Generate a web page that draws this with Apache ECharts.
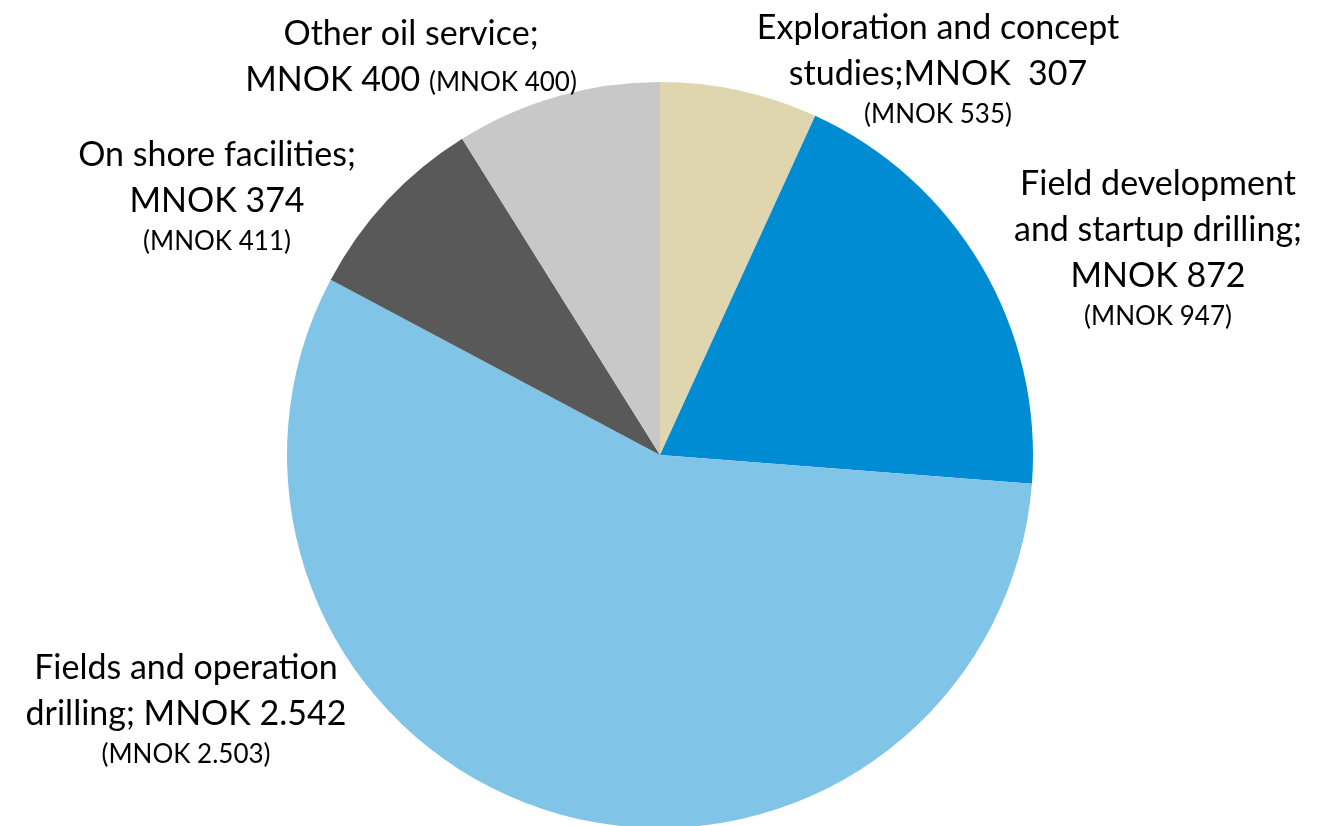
<!DOCTYPE html>
<html>
<head>
<meta charset="utf-8">
<script src="https://cdn.jsdelivr.net/npm/echarts@6/dist/echarts.min.js"></script>
<style>
html,body{margin:0;padding:0;background:#fff;}
#chart{width:1326px;height:826px;}
</style>
</head>
<body>
<div id="chart"></div>
<script>
// ---- data ----
const categories = [
  "Exploration and concept\nstudies",
  "Field development\nand startup drilling",
  "Fields and operation\ndrilling",
  "On shore facilities",
  "Other oil service"
];
const values = [307, 872, 2542, 374, 400];          // current year, MNOK
const previousValues = [535, 947, 2503, 411, 400];  // previous year, MNOK (in parentheses)

// ---- styling / layout (not data) ----
const colors = ["#DFD5AF", "#008CD3", "#80C4E7", "#595959", "#C8C8C8"];
const valueSep = ["", "\n", " ", "\n", "\n"];      // between "name;" and "MNOK value"
const prevSep = ["\n", "\n", "\n", "\n", " "];     // between value and "(MNOK prev)"
const labelPos = [[938, 69], [1158, 248], [186, 709], [217, 196], [411, 57]];

function fmt(v) {
  return String(v).replace(/\B(?=(\d{3})+(?!\d))/g, ".");
}
function big(s) {
  return s.split("\n").map(l => l ? "{b|" + l + "}" : "").join("\n");
}

const chart = echarts.init(document.getElementById("chart"), null, {renderer: "canvas"});
chart.setOption({
  backgroundColor: "#ffffff",
  animation: false,
  series: [{
    type: "pie",
    center: [660, 455],
    radius: 373,
    startAngle: 90,
    clockwise: true,
    avoidLabelOverlap: false,
    itemStyle: {borderWidth: 0},
    emphasis: {disabled: true},
    labelLine: {show: false},
    label: {
      show: true,
      position: "outside",
      formatter: function (p) {
        const i = p.dataIndex;
        const dblSpace = i === 0 ? " " : "";
        const main = p.name + ";" + valueSep[i] + "MNOK " + dblSpace + fmt(p.value);
        const prevText = "(MNOK " + fmt(previousValues[i]) + ")";
        if (prevSep[i] === " ") {
          return big(main) + "{b| }{si|" + prevText + "}";
        }
        return big(main) + "\n{s|" + prevText + "}";
      },
      rich: {
        b: {fontFamily: "Lato", fontSize: 34, lineHeight: 46, color: "#000"},
        s: {fontFamily: "Lato", fontSize: 26, lineHeight: 36, color: "#000"},
        si: {fontFamily: "Lato", fontSize: 26, lineHeight: 40, padding: [6, 0, 0, 0], color: "#000"}
      }
    },
    labelLayout: function (params) {
      const pos = labelPos[params.dataIndex];
      return {x: pos[0], y: pos[1], align: "center", verticalAlign: "middle", hideOverlap: false};
    },
    data: categories.map((c, i) => ({
      name: c,
      value: values[i],
      itemStyle: {color: colors[i]}
    }))
  }]
});
</script>
</body>
</html>
